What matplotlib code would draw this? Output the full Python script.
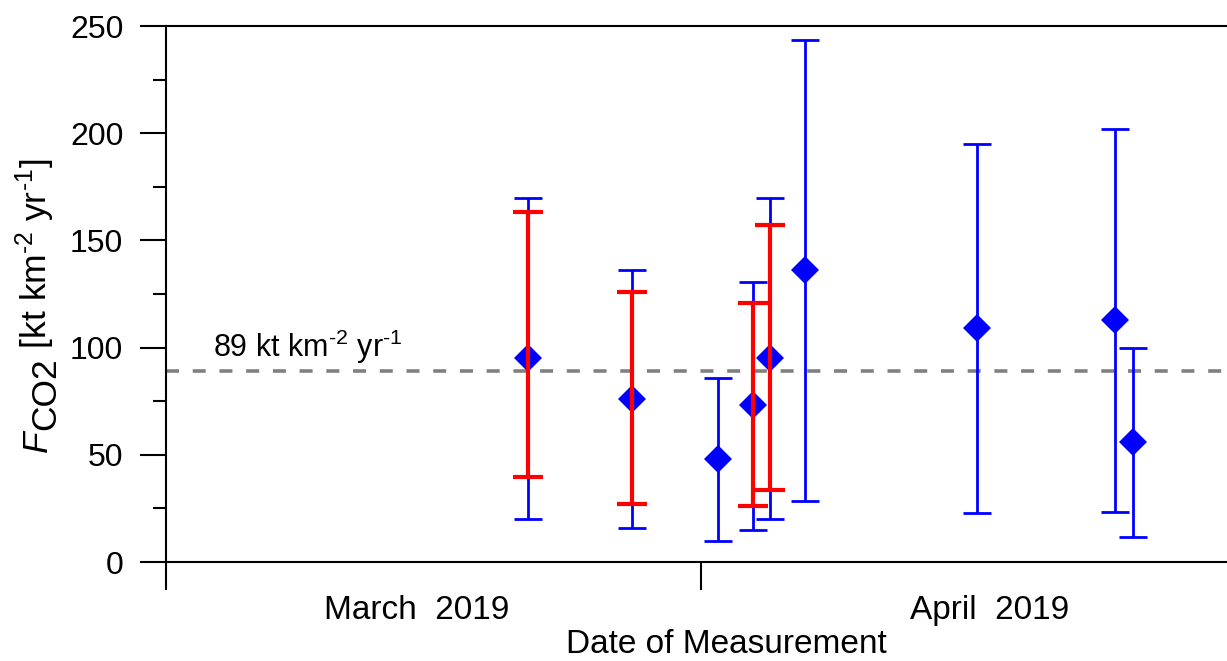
import numpy as np
import pandas as pd
import matplotlib
matplotlib.use("Agg")
import matplotlib.pyplot as plt
import matplotlib.dates as mdates
import matplotlib.ticker as mticker

plt.rcParams['font.family'] = 'Liberation Sans'
plt.rcParams['mathtext.fontset'] = 'custom'
plt.rcParams['mathtext.rm'] = 'Liberation Sans'
plt.rcParams['mathtext.it'] = 'Liberation Sans:italic'

# measured fluxes (blue diamonds, with full range)
dates = ['2019-03-22', '2019-03-28', '2019-04-02', '2019-04-04', '2019-04-05',
         '2019-04-07', '2019-04-17', '2019-04-25', '2019-04-26']
flux = [95, 76, 48, 73, 95, 136, 109, 113, 56]
flux_low = [20, 16, 10, 15, 20, 28.5, 22.7, 23.5, 11.7]
flux_high = [170, 136, 86, 130.5, 170, 243.5, 195, 202, 100]

# red ranges
red_dates = ['2019-03-22', '2019-03-28', '2019-04-04', '2019-04-05']
red_flux = [95, 76, 73, 95]
red_low = [39.6, 27.1, 26.1, 33.6]
red_high = [163.2, 126.1, 121, 157]

ref_level = 89
month_labels = ['March  2019', 'April  2019']
month_label_pos = [14.5, 47.7]   # days after 1 March
month_starts = ['2019-03-01', '2019-04-01']

W, H = 1227, 661
fig = plt.figure(figsize=(W / 100, H / 100), dpi=100)
ax = fig.add_axes([166 / W, 1 - 562 / H, 1 - 166 / W, 536 / H])

x = mdates.date2num(pd.to_datetime(dates))
y = np.array(flux)
yerr = [y - np.array(flux_low), np.array(flux_high) - y]
ax.errorbar(x, y, yerr=yerr, fmt='none', ecolor='#0000ff',
            elinewidth=2, capsize=10, capthick=2, zorder=3)
ax.plot(x, y, 'D', color='#0000ff', ms=13.8, mew=0, zorder=3.5)

xr = mdates.date2num(pd.to_datetime(red_dates))
yr = np.array(red_flux)
yerr_r = [yr - np.array(red_low), np.array(red_high) - yr]
ax.errorbar(xr, yr, yerr=yerr_r, fmt='none', ecolor='#ff0000',
            elinewidth=3, capsize=11, capthick=3, zorder=4)

x0 = mdates.date2num(pd.Timestamp(month_starts[0]))
ax.axhline(ref_level, color='#808080', lw=2.6, dashes=(3.6, 3.8), zorder=2)
ax.text(x0 + 2.72, 95.6, r'89 kt km$^{\text{-2}}$ yr$^{\text{-1}}$', fontsize=22,
        ha='left', va='baseline')

ax.set_xlim(x0, x0 + 61.47)
ax.set_ylim(0, 250)

ax.xaxis.set_major_locator(mticker.FixedLocator(
    mdates.date2num(pd.to_datetime(month_starts))))
ax.xaxis.set_major_formatter(mticker.NullFormatter())
ax.xaxis.set_minor_locator(mticker.FixedLocator([x0 + p for p in month_label_pos]))
ax.xaxis.set_minor_formatter(mticker.FixedFormatter(month_labels))
ax.tick_params(axis='x', which='major', direction='out', length=20, width=1.5)
ax.tick_params(axis='x', which='minor', length=0, pad=24, labelsize=24)

ax.yaxis.set_major_locator(mticker.MultipleLocator(50))
ax.yaxis.set_minor_locator(mticker.MultipleLocator(25))
ax.tick_params(axis='y', which='major', direction='out', length=18.7, width=1.5,
               pad=12, labelsize=23)
ax.tick_params(axis='y', which='minor', direction='out', length=9.4, width=1.5)

for s in ['top', 'left', 'bottom']:
    ax.spines[s].set_linewidth(1.5)
ax.spines['right'].set_visible(False)

ax.set_xlabel('Date of Measurement', fontsize=24)
ax.xaxis.set_label_coords(0.5283, -0.125)

# y label built from pieces: italic F, lowered CO2, then units
fig.canvas.draw()
r = fig.canvas.get_renderer()
fs = 25.5
xb = 47 / W
kw = dict(fontsize=fs, rotation=90, rotation_mode='anchor', ha='left', va='baseline')
t1 = fig.text(xb, 1 - 452 / H, 'F', style='italic', **kw)
bb1 = t1.get_window_extent(r)
t2 = fig.text(xb + 8 / W, bb1.y1 / H, 'CO2', **kw)
bb2 = t2.get_window_extent(r)
fig.text(xb, bb2.y1 / H, r' [kt km$^{\text{-2}}$ yr$^{\text{-1}}$]', **kw)

fig.savefig('out.png', dpi=100)
